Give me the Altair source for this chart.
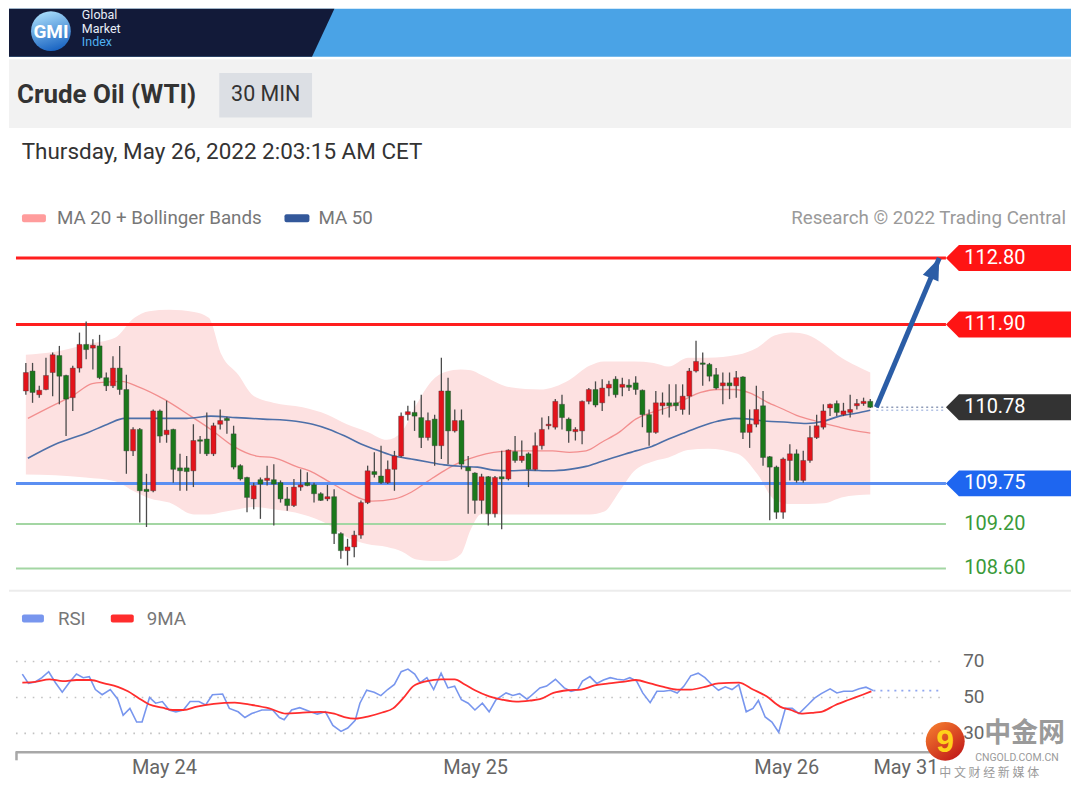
import altair as alt
import pandas as pd

# ---------------- data ----------------
opens = [111.00, 111.27, 110.95, 111.02, 111.25, 111.48, 111.21, 110.91, 111.31, 111.63,
         111.58, 111.61, 111.18, 111.07, 111.31, 111.02, 110.19, 110.48, 109.67, 109.65,
         110.73, 110.41, 110.48, 109.96, 109.96, 109.92, 110.34, 110.35, 110.15, 110.55,
         110.63, 110.42, 109.99, 109.83, 109.54, 109.80, 109.79, 109.80, 109.76, 109.54,
         109.45, 109.70, 109.76, 109.73, 109.61, 109.54, 109.57, 109.07, 108.84, 108.89,
         109.05, 109.49, 109.91, 109.85, 109.76, 109.94, 110.12, 110.68, 110.71, 110.64,
         110.37, 110.62, 110.26, 111.00, 110.46, 110.60, 109.97, 109.89, 109.52, 109.84,
         109.34, 109.84, 109.81, 110.18, 110.06, 110.15, 109.94, 110.26, 110.53, 110.51,
         110.82, 110.62, 110.45, 110.46, 110.86, 111.02, 110.84, 111.04, 111.16, 111.05,
         111.08, 111.11, 111.01, 110.68, 110.44, 110.80, 110.84, 110.84, 110.75, 110.93,
         111.27, 111.38, 111.36, 111.22, 111.07, 111.11, 111.07, 111.19, 110.44, 110.55,
         110.80, 110.11, 109.97, 109.36, 110.06, 110.15, 109.79, 110.06, 110.37, 110.51,
         110.77, 110.83, 110.68, 110.71, 110.80, 110.83, 110.86]
highs = [111.38, 111.38, 111.07, 111.45, 111.52, 111.61, 111.22, 111.34, 111.79, 111.94,
         111.70, 111.76, 111.25, 111.47, 111.61, 111.22, 110.51, 110.50, 109.88, 110.75,
         110.75, 110.87, 110.49, 110.15, 110.12, 110.55, 110.39, 110.71, 110.57, 110.75,
         110.65, 110.53, 110.01, 109.84, 109.76, 109.83, 109.99, 110.01, 109.79, 109.70,
         109.81, 109.94, 109.90, 109.76, 109.63, 109.73, 109.67, 109.09, 109.00, 109.11,
         109.52, 109.99, 110.17, 110.26, 110.06, 110.19, 110.71, 110.80, 110.87, 110.95,
         110.71, 110.68, 111.45, 111.18, 110.75, 110.75, 110.12, 109.90, 109.88, 109.85,
         109.85, 110.19, 110.21, 110.39, 110.33, 110.17, 110.44, 110.64, 110.66, 110.89,
         110.95, 110.64, 110.51, 110.87, 111.04, 111.13, 111.16, 111.14, 111.20, 111.18,
         111.16, 111.20, 111.02, 110.75, 111.00, 110.98, 111.09, 111.09, 111.09, 111.31,
         111.68, 111.52, 111.38, 111.31, 111.25, 111.25, 111.27, 111.20, 110.75, 111.07,
         111.00, 110.12, 109.99, 110.10, 110.28, 110.21, 110.19, 110.53, 110.68, 110.82,
         110.83, 110.87, 110.84, 110.95, 110.89, 110.91, 110.89]
lows = [110.95, 110.84, 110.91, 111.01, 110.93, 110.82, 110.39, 110.73, 111.25, 111.43,
        111.29, 111.16, 111.00, 111.04, 110.95, 109.88, 110.12, 109.22, 109.16, 109.63,
        110.30, 110.30, 109.76, 109.65, 109.65, 109.70, 110.15, 110.12, 110.12, 110.48,
        110.42, 109.94, 109.79, 109.36, 109.40, 109.27, 109.72, 109.18, 109.49, 109.38,
        109.43, 109.65, 109.71, 109.49, 109.51, 109.51, 108.93, 108.73, 108.64, 108.75,
        109.00, 109.47, 109.83, 109.74, 109.74, 109.65, 110.10, 110.60, 110.46, 110.23,
        110.33, 109.99, 110.08, 110.01, 110.44, 109.94, 109.34, 109.34, 109.34, 109.18,
        109.29, 109.13, 109.79, 110.03, 110.03, 109.70, 109.92, 110.21, 110.48, 110.48,
        110.48, 110.30, 110.33, 110.28, 110.82, 110.78, 110.73, 110.93, 110.91, 110.93,
        111.00, 110.95, 110.51, 110.26, 110.42, 110.68, 110.64, 110.73, 110.68, 110.68,
        111.25, 111.07, 111.13, 111.02, 110.82, 110.89, 110.91, 110.35, 110.23, 110.51,
        109.99, 109.25, 109.27, 109.27, 109.79, 109.76, 109.76, 110.03, 110.35, 110.48,
        110.66, 110.66, 110.66, 110.64, 110.75, 110.80, 110.77]
closes = [111.25, 110.98, 111.01, 111.21, 111.49, 111.20, 110.89, 111.31, 111.63, 111.56,
          111.62, 111.18, 111.07, 111.31, 111.02, 110.19, 110.48, 109.65, 109.64, 110.73,
          110.39, 110.47, 109.94, 109.92, 109.91, 110.33, 110.32, 110.15, 110.53, 110.60,
          110.60, 109.97, 109.81, 109.56, 109.72, 109.74, 109.82, 109.74, 109.54, 109.45,
          109.70, 109.73, 109.72, 109.61, 109.52, 109.57, 109.07, 108.84, 108.89, 109.05,
          109.49, 109.92, 109.87, 109.76, 109.94, 110.12, 110.66, 110.72, 110.66, 110.37,
          110.60, 110.26, 111.00, 110.46, 110.60, 110.01, 109.92, 109.52, 109.84, 109.34,
          109.83, 109.81, 110.20, 110.06, 110.12, 109.94, 110.26, 110.48, 110.55, 110.86,
          110.64, 110.46, 110.48, 110.86, 111.02, 110.81, 111.04, 111.09, 110.95, 111.09,
          111.05, 111.02, 110.68, 110.44, 110.84, 110.84, 110.80, 110.80, 110.93, 111.27,
          111.40, 111.36, 111.20, 111.04, 111.11, 111.07, 111.18, 110.44, 110.55, 110.75,
          110.10, 109.97, 109.36, 110.08, 110.15, 109.79, 110.06, 110.37, 110.53, 110.73,
          110.82, 110.71, 110.73, 110.75, 110.83, 110.86, 110.78]

ma20_t = [0.3, 4.4, 6.9, 9.9, 11.8, 14.3, 16.7, 20.6, 24.6, 27.6, 31.0, 34.4, 36.9, 40.3, 42.8, 45.3,
          47.6, 50.1, 51.6, 55.0, 57.5, 60.0, 62.4, 64.9, 67.4, 69.8, 72.3, 74.8, 78.6, 81.1, 83.6, 86.0,
          88.5, 91.0, 93.4, 95.9, 98.4, 100.7, 103.2, 105.8, 108.1, 110.6, 113.1, 115.0, 118.0, 121.4, 123.9, 126.0]
ma20_v = [110.63, 110.82, 110.93, 111.10, 111.12, 111.13, 111.06, 110.89, 110.66, 110.48, 110.25, 110.12,
          110.10, 109.98, 109.90, 109.77, 109.65, 109.54, 109.51, 109.54, 109.63, 109.78, 109.92, 110.04,
          110.12, 110.17, 110.19, 110.19, 110.19, 110.17, 110.19, 110.31, 110.44, 110.62, 110.71, 110.78,
          110.89, 110.98, 111.02, 111.02, 110.97, 110.85, 110.75, 110.67, 110.59, 110.51, 110.46, 110.43]

ma50_t = [0.3, 4.4, 9.3, 12.2, 14.7, 19.2, 24.0, 27.6, 31.4, 35.4, 40.3, 42.8, 45.3, 47.6, 50.1, 52.7,
          55.0, 57.5, 60.0, 62.4, 64.9, 67.4, 69.8, 72.3, 74.8, 78.2, 81.1, 83.6, 86.0, 88.5, 91.0, 93.4,
          95.9, 98.4, 100.7, 103.2, 105.8, 108.1, 110.6, 113.1, 116.5, 119.0, 121.4, 123.9, 126.0]
ma50_v = [110.09, 110.28, 110.44, 110.55, 110.63, 110.63, 110.63, 110.66, 110.64, 110.62, 110.59, 110.55,
          110.48, 110.39, 110.28, 110.19, 110.12, 110.08, 110.04, 110.00, 109.98, 109.97, 109.93, 109.92,
          109.93, 109.92, 109.94, 109.98, 110.05, 110.12, 110.19, 110.25, 110.35, 110.44, 110.52, 110.59,
          110.63, 110.62, 110.59, 110.58, 110.56, 110.59, 110.66, 110.70, 110.74]

band_t = [0.0, 4.4, 8.9, 13.3, 16.2, 18.4, 21.4, 25.1, 27.3, 29.2, 31.7, 33.9, 36.9, 41.3, 45.0,
          47.9, 50.9, 53.9, 56.1, 58.3, 60.5, 62.7, 64.9, 66.4, 67.9, 72.3, 76.7, 81.1, 84.1, 86.3,
          88.5, 90.7, 93.7, 95.9, 98.8, 101.8, 106.2, 109.2, 111.7, 114.3, 116.6, 119.1, 121.7, 123.9, 126.0]
band_up = [111.49, 111.53, 111.63, 111.72, 111.99, 112.08, 112.10, 112.07, 111.99, 111.49, 111.22, 110.94,
           110.84, 110.78, 110.68, 110.55, 110.45, 110.34, 110.45, 110.82, 111.13, 111.26, 111.29, 111.28,
           111.22, 111.05, 111.02, 111.15, 111.34, 111.40, 111.40, 111.40, 111.38, 111.33, 111.45, 111.45,
           111.49, 111.59, 111.75, 111.79, 111.76, 111.63, 111.45, 111.34, 111.25]
band_lo = [109.87, 109.86, 109.83, 109.78, 109.64, 109.55, 109.49, 109.33, 109.33, 109.36, 109.40, 109.43,
           109.40, 109.33, 109.20, 109.02, 108.93, 108.89, 108.83, 108.72, 108.70, 108.70, 108.79, 109.13,
           109.33, 109.33, 109.33, 109.33, 109.33, 109.37, 109.63, 109.91, 110.05, 110.10, 110.20, 110.22,
           110.15, 109.87, 109.53, 109.47, 109.47, 109.48, 109.56, 109.59, 109.60]

rsi_t = [0.2, 1.1, 2.1, 3.1, 4.1, 5.1, 6.1, 7.2, 8.2, 9.2, 10.1, 11.0, 12.0, 13.2, 14.3, 15.1, 16.1, 17.1,
         17.9, 19.0, 19.9, 20.9, 21.9, 22.9, 24.0, 25.0, 26.3, 27.3, 28.3, 29.8, 30.8, 32.1, 33.1, 34.1,
         35.6, 37.2, 38.2, 38.9, 40.0, 41.2, 42.8, 43.8, 45.0, 46.1, 47.3, 48.3, 49.4, 50.1, 51.1, 52.2,
         53.2, 54.2, 55.2, 56.2, 57.2, 58.2, 59.0, 60.0, 61.0, 62.1, 63.1, 64.1, 65.1, 66.1, 67.1, 68.2,
         69.2, 70.2, 71.7, 72.7, 73.7, 74.8, 76.7, 77.7, 79.0, 80.3, 81.3, 82.3, 83.0, 84.1, 85.1, 86.1,
         87.1, 88.1, 89.1, 90.0, 91.0, 91.9, 93.0, 94.0, 95.0, 96.0, 97.0, 98.0, 99.0, 100.1, 101.1, 102.1,
         103.1, 104.1, 105.1, 106.1, 107.2, 108.2, 109.0, 110.0, 111.0, 112.0, 113.0, 114.0, 115.0, 116.3,
         117.3, 118.3, 119.6, 120.6, 121.6, 122.9, 123.9, 124.9, 126.0]
rsi_v = [63.0, 57.8, 58.6, 61.0, 64.3, 58.2, 52.9, 58.6, 63.0, 61.0, 61.6, 54.4, 51.5, 54.4, 49.0, 40.1,
         43.9, 36.3, 36.3, 50.0, 46.8, 47.7, 43.0, 42.0, 43.0, 47.7, 47.7, 45.8, 51.5, 51.9, 43.9, 42.0,
         38.8, 41.0, 43.0, 43.0, 38.8, 37.6, 43.0, 44.3, 42.0, 40.7, 42.0, 34.4, 31.1, 33.0, 37.2, 46.8,
         54.0, 52.9, 51.0, 54.4, 57.2, 64.3, 65.8, 63.0, 58.2, 61.0, 54.4, 63.5, 55.3, 56.3, 48.7, 46.8,
         43.0, 46.8, 42.0, 48.7, 52.5, 51.1, 52.1, 49.0, 55.3, 56.3, 60.1, 55.3, 53.4, 54.4, 59.1, 61.6,
         57.8, 59.7, 61.0, 60.1, 59.7, 61.0, 59.1, 52.5, 47.1, 53.4, 53.4, 54.0, 52.5, 56.3, 62.0, 63.5,
         61.0, 57.2, 54.0, 55.9, 54.4, 57.2, 42.0, 43.9, 48.3, 39.1, 36.3, 30.6, 43.9, 43.9, 41.0, 45.8,
         49.6, 52.1, 54.8, 52.5, 53.4, 53.4, 54.8, 55.7, 53.8]

rsi_ma_t = [0.2, 2.1, 4.2, 6.2, 8.2, 10.3, 12.3, 14.3, 15.8, 17.4, 18.9, 20.9, 22.4, 24.0, 26.0, 28.5,
            31.6, 34.1, 36.7, 39.2, 41.2, 44.3, 46.3, 47.8, 49.4, 51.4, 53.4, 55.0, 56.5, 58.0, 60.0, 62.1,
            64.1, 65.6, 67.1, 69.2, 71.2, 73.2, 75.3, 76.7, 78.7, 80.8, 82.8, 84.8, 86.9, 88.9, 90.9, 93.0,
            95.0, 97.0, 99.0, 101.1, 103.1, 106.1, 108.2, 110.2, 112.2, 113.8, 115.3, 117.3, 118.3, 120.4,
            122.4, 124.4, 125.7]
rsi_ma_v = [58.2, 58.6, 60.1, 59.1, 59.7, 59.7, 57.8, 55.9, 53.4, 49.6, 46.2, 44.3, 43.0, 43.0, 44.9, 46.4,
            47.1, 45.8, 43.9, 41.0, 41.4, 42.0, 41.0, 39.1, 38.2, 39.5, 41.6, 43.9, 49.6, 56.3, 59.1, 60.1,
            60.1, 57.2, 54.0, 50.6, 48.7, 47.7, 48.3, 49.0, 52.5, 54.0, 54.4, 56.7, 57.8, 58.6, 59.7, 57.8,
            55.9, 54.4, 54.4, 55.9, 57.8, 58.2, 54.4, 50.6, 44.9, 43.0, 41.0, 41.6, 42.0, 45.8, 48.7, 51.5,
            53.4]

levels = [112.80, 111.90, 110.78, 109.75, 109.20, 108.60]
level_text = ["112.80", "111.90", "110.78", "109.75", "109.20", "108.60"]
rsi_levels = [70, 50, 30]
rsi_level_text = ["70", "50", "30"]
day_labels = ["May 24", "May 25", "May 26", "May 31"]
day_pos = [21.2, 67.2, 113.2, 130.8]
arrow_t = [126.9, 136.3]
target_price = 112.80

# ---------------- styles ----------------
level_line = ["#ff1e1e", "#ff1e1e", None, "#5b8ff2", "#a3d6a3", "#a3d6a3"]
level_width = [3, 3, 0, 3, 2, 2]
level_box = ["#ff1414", "#ff1414", "#333333", "#1e66f0", None, None]
level_tcol = ["#ffffff", "#ffffff", "#ffffff", "#ffffff", "#3a9a3a", "#3a9a3a"]

W = 1064
H_HEAD, H_PRICE, H_RSI = 182, 400, 190
X_SCALE = alt.Scale(domain=[-1.7704, 155.208], nice=False, zero=False)
P_SCALE = alt.Scale(domain=[108.3125, 113.7142], nice=False, zero=False)
# 70 -> 72 px, 30 -> 144 px from the top of the RSI panel (1.8 px per unit)
R_SCALE = alt.Scale(domain=[30 - (H_RSI - 144) / 1.8, 110.0], nice=False, zero=False)
FONT = "Roboto"
LEG = 18.8
one = pd.DataFrame({"k": [0]})


def xq(f):
    return alt.X(f + ":Q", scale=X_SCALE, axis=None)


def pq(f):
    return alt.Y(f + ":Q", scale=P_SCALE, axis=None)


def rq(f):
    return alt.Y(f + ":Q", scale=R_SCALE, axis=None)


def rect(x1, x2, y1, y2, color, **kw):
    return alt.Chart(one).mark_rect(color=color, **kw).encode(
        x=alt.value(x1), x2=alt.value(x2), y=alt.value(y1), y2=alt.value(y2))


def label(x, y, s, size, color, align="left", weight="normal", font=FONT, baseline="middle"):
    return alt.Chart(one).mark_text(text=s, fontSize=size, color=color, align=align,
                                    fontWeight=weight, font=font, baseline=baseline).encode(
        x=alt.value(x), y=alt.value(y))


# ---------------- header ----------------
gmi_grad = {"gradient": "linear", "x1": 0.3, "y1": 0, "x2": 0.6, "y2": 1,
            "stops": [{"offset": 0, "color": "#a9defb"}, {"offset": 1, "color": "#1863c2"}]}
header = alt.layer(
    rect(0, W, 0, 48, "#4aa3e6"),
    alt.Chart(one).mark_point(shape="M0,0 L326,0 L303.6,48 L0,48 Z", size=4, filled=True,
                              opacity=1, color="#121a39", strokeWidth=0).encode(
        x=alt.value(0), y=alt.value(0)),
    alt.Chart(one).mark_point(shape="circle", size=1590, filled=True, opacity=1,
                              fill=gmi_grad, strokeWidth=0).encode(x=alt.value(42), y=alt.value(22.5)),
    label(42, 23.5, "GMI", 19, "#ffffff", align="center", weight="bold"),
    label(73, 6.5, "Global", 12.5, "#e8eef8"),
    label(73, 20, "Market", 12.5, "#e8eef8"),
    label(73, 33.5, "Index", 12.5, "#4fb0f2"),
    rect(0, W, 50.5, 119.4, "#f2f2f2"),
    rect(210.7, 303.6, 64.3, 109, "#dcdfe4"),
    label(8, 86.7, "Crude Oil (WTI)", 26, "#333333", weight="bold"),
    label(257.2, 86.7, "30 MIN", 21.5, "#333333", align="center"),
    label(12.7, 143.5, "Thursday, May 26, 2022 2:03:15 AM CET", 22.5, "#333333"),
).properties(width=W, height=H_HEAD)

# ---------------- price panel ----------------
candles = pd.DataFrame({"t": list(range(len(opens))), "o": opens, "h": highs, "l": lows, "c": closes})
candles["dir"] = ["up" if c >= o else "down" for o, c in zip(opens, closes)]
band_df = pd.DataFrame({"t": band_t, "u": band_up, "lo": band_lo})
ma20_df = pd.DataFrame({"t": ma20_t, "p": ma20_v})
ma50_df = pd.DataFrame({"t": ma50_t, "p": ma50_v})
lv = pd.DataFrame({"p": levels, "txt": level_text, "lc": level_line, "w": level_width,
                   "bc": level_box, "tc": level_tcol})
lines_df = lv[lv["lc"].notna()]
box_df = lv[lv["bc"].notna()]

band = alt.Chart(band_df).mark_area(color="#fde1e1", opacity=1, interpolate="monotone").encode(
    x=xq("t"), y=pq("u"), y2="lo:Q")
ma20 = alt.Chart(ma20_df).mark_line(color="#f28e8e", strokeWidth=1.3, interpolate="monotone").encode(
    x=xq("t"), y=pq("p"))
ma50 = alt.Chart(ma50_df).mark_line(color="#4d6fa8", strokeWidth=1.6, interpolate="monotone").encode(
    x=xq("t"), y=pq("p"))
lvl_lines = alt.Chart(lines_df).mark_rule().encode(
    x=alt.value(7), x2=alt.value(938.7), y=pq("p"),
    color=alt.Color("lc:N", scale=None), strokeWidth=alt.StrokeWidth("w:Q", scale=None))
wicks = alt.Chart(candles).mark_rule(color="#4a4a4a", strokeWidth=1.3).encode(
    x=xq("t"), y=pq("l"), y2="h:Q")
bodies = alt.Chart(candles).mark_bar(size=5, stroke="#3a3a3a", strokeWidth=0.4).encode(
    x=xq("t"), y=pq("o"), y2="c:Q",
    color=alt.Color("dir:N", scale=alt.Scale(domain=["up", "down"], range=["#e3131b", "#1b781b"]),
                    legend=None))
last_df = pd.DataFrame({"t": [arrow_t[0]], "p": [closes[-1]], "m": [ma50_v[-1]]})
dot_price = alt.Chart(last_df).mark_rule(color="#8e9bb8", strokeDash=[2, 3], strokeWidth=1.5).encode(
    x=xq("t"), x2=alt.value(938.7), y=pq("p"))
dot_ma = alt.Chart(last_df).mark_rule(color="#b3c3e6", strokeDash=[2, 3], strokeWidth=1.5).encode(
    x=xq("t"), x2=alt.value(938.7), y=pq("m"))
arrow_df = pd.DataFrame({"t": arrow_t, "p": [closes[-1], target_price]})
arrow = alt.Chart(arrow_df).mark_line(color="#2b5da6", strokeWidth=5).encode(x=xq("t"), y=pq("p"))
head = alt.Chart(arrow_df.iloc[[1]]).mark_point(
    shape="M0,0 L8.5,22 L-8.5,22 Z", size=4, angle=23.2, filled=True, opacity=1,
    color="#2b5da6", strokeWidth=0).encode(x=xq("t"), y=pq("p"))
boxes = alt.Chart(box_df).mark_point(
    shape="M0,0 L13,-13 L125.3,-13 L125.3,13 L13,13 Z", size=4, filled=True, opacity=1,
    strokeWidth=0).encode(x=alt.value(938.7), y=pq("p"), fill=alt.Fill("bc:N", scale=None))
lvl_text = alt.Chart(lv).mark_text(align="left", baseline="middle", fontSize=20, font=FONT).encode(
    x=alt.value(957), y=pq("p"), text="txt:N", color=alt.Color("tc:N", scale=None))

price = alt.layer(
    band, ma20, ma50, lvl_lines, wicks, bodies, dot_ma, dot_price, arrow, head, boxes, lvl_text,
    rect(13, 37, 24, 32, "#ff9c9c", cornerRadius=2),
    label(48, 28, "MA 20 + Bollinger Bands", LEG, "#777777"),
    rect(276, 301, 24, 32, "#33589a", cornerRadius=2),
    label(310, 28, "MA 50", LEG, "#777777"),
    label(1059, 28, "Research \u00a9 2022 Trading Central", LEG, "#9a9a9a", align="right"),
).properties(width=W, height=H_PRICE)

# ---------------- RSI panel ----------------
rsi_df = pd.DataFrame({"t": rsi_t, "r": rsi_v})
rsima_df = pd.DataFrame({"t": rsi_ma_t, "r": rsi_ma_v})
rl_df = pd.DataFrame({"r": rsi_levels, "txt": rsi_level_text})
rsi_last = pd.DataFrame({"t": [rsi_t[-1]], "r": [rsi_v[-1]]})
days_df = pd.DataFrame({"t": day_pos, "txt": day_labels})

grid = alt.Chart(rl_df).mark_rule(color="#c2c2c2", strokeDash=[1.6, 6.8], strokeWidth=1.6).encode(
    x=alt.value(7), x2=alt.value(938), y=rq("r"))
rsi_line = alt.Chart(rsi_df).mark_line(color="#7896ee", strokeWidth=1.6).encode(x=xq("t"), y=rq("r"))
rsima_line = alt.Chart(rsima_df).mark_line(color="#ff2d2d", strokeWidth=1.8, interpolate="monotone").encode(
    x=xq("t"), y=rq("r"))
rsi_ext = alt.Chart(rsi_last).mark_rule(color="#8fa6f0", strokeDash=[2, 5], strokeWidth=1.6).encode(
    x=xq("t"), x2=alt.value(935), y=rq("r"))
rsi_lbl = alt.Chart(rl_df).mark_text(align="left", baseline="middle", fontSize=19, font=FONT,
                                      color="#666666").encode(x=alt.value(956), y=rq("r"), text="txt:N")
days = alt.Chart(days_df).mark_text(align="center", baseline="alphabetic", fontSize=20, font=FONT,
                                    color="#666666").encode(x=xq("t"), y=alt.value(185), text="txt:N")
axis_line = alt.Chart(one).mark_rule(color="#a8a8a8", strokeWidth=2.5).encode(
    x=alt.value(7), x2=alt.value(940), y=alt.value(163))
axis_tick = alt.Chart(one).mark_rule(color="#a8a8a8", strokeWidth=2.5).encode(
    x=alt.value(7.5), y=alt.value(162), y2=alt.value(171))
sep = alt.Chart(one).mark_rule(color="#ececec", strokeWidth=2).encode(
    x=alt.value(0), x2=alt.value(W), y=alt.value(1))
wm_grad = {"gradient": "linear", "x1": 0.2, "y1": 0.1, "x2": 0.8, "y2": 0.9,
           "stops": [{"offset": 0, "color": "#f0742c"}, {"offset": 1, "color": "#c41f1a"}]}
wm_circle = alt.Chart(one).mark_point(shape="circle", size=1520, filled=True, opacity=1, fill=wm_grad,
                                      strokeWidth=0).encode(x=alt.value(938), y=alt.value(152))

rsi = alt.layer(
    sep, grid, rsi_line, rsima_line, rsi_ext, rsi_lbl, axis_line, axis_tick, days,
    rect(13, 35, 25, 33, "#7896ee", cornerRadius=2),
    label(49, 29, "RSI", LEG, "#777777"),
    rect(102, 125, 25, 33, "#ff2d2d", cornerRadius=2),
    label(138, 29, "9MA", LEG, "#777777"),
    wm_circle,
    label(938, 153, "9", 32, "#ffd21a", align="center", weight="bold", font="Liberation Sans"),
    label(977, 145, "中金网", 27, "#9a9a9a", weight="bold", font="Noto Sans CJK SC"),
    label(968, 168.5, "CNGOLD.COM.CN", 10.5, "#9a9a9a"),
    label(932, 184, "中 文 财 经 新 媒 体", 12, "#9a9a9a", font="Noto Sans CJK SC"),
).properties(width=W, height=H_RSI)

chart = alt.vconcat(header, price, rsi, spacing=0, bounds="flush").resolve_scale(
    x="independent", y="independent", color="independent"
).properties(padding=0).configure(font=FONT).configure_view(stroke=None)

chart.save("out.html", embed_options={"renderer": "svg", "actions": False})
